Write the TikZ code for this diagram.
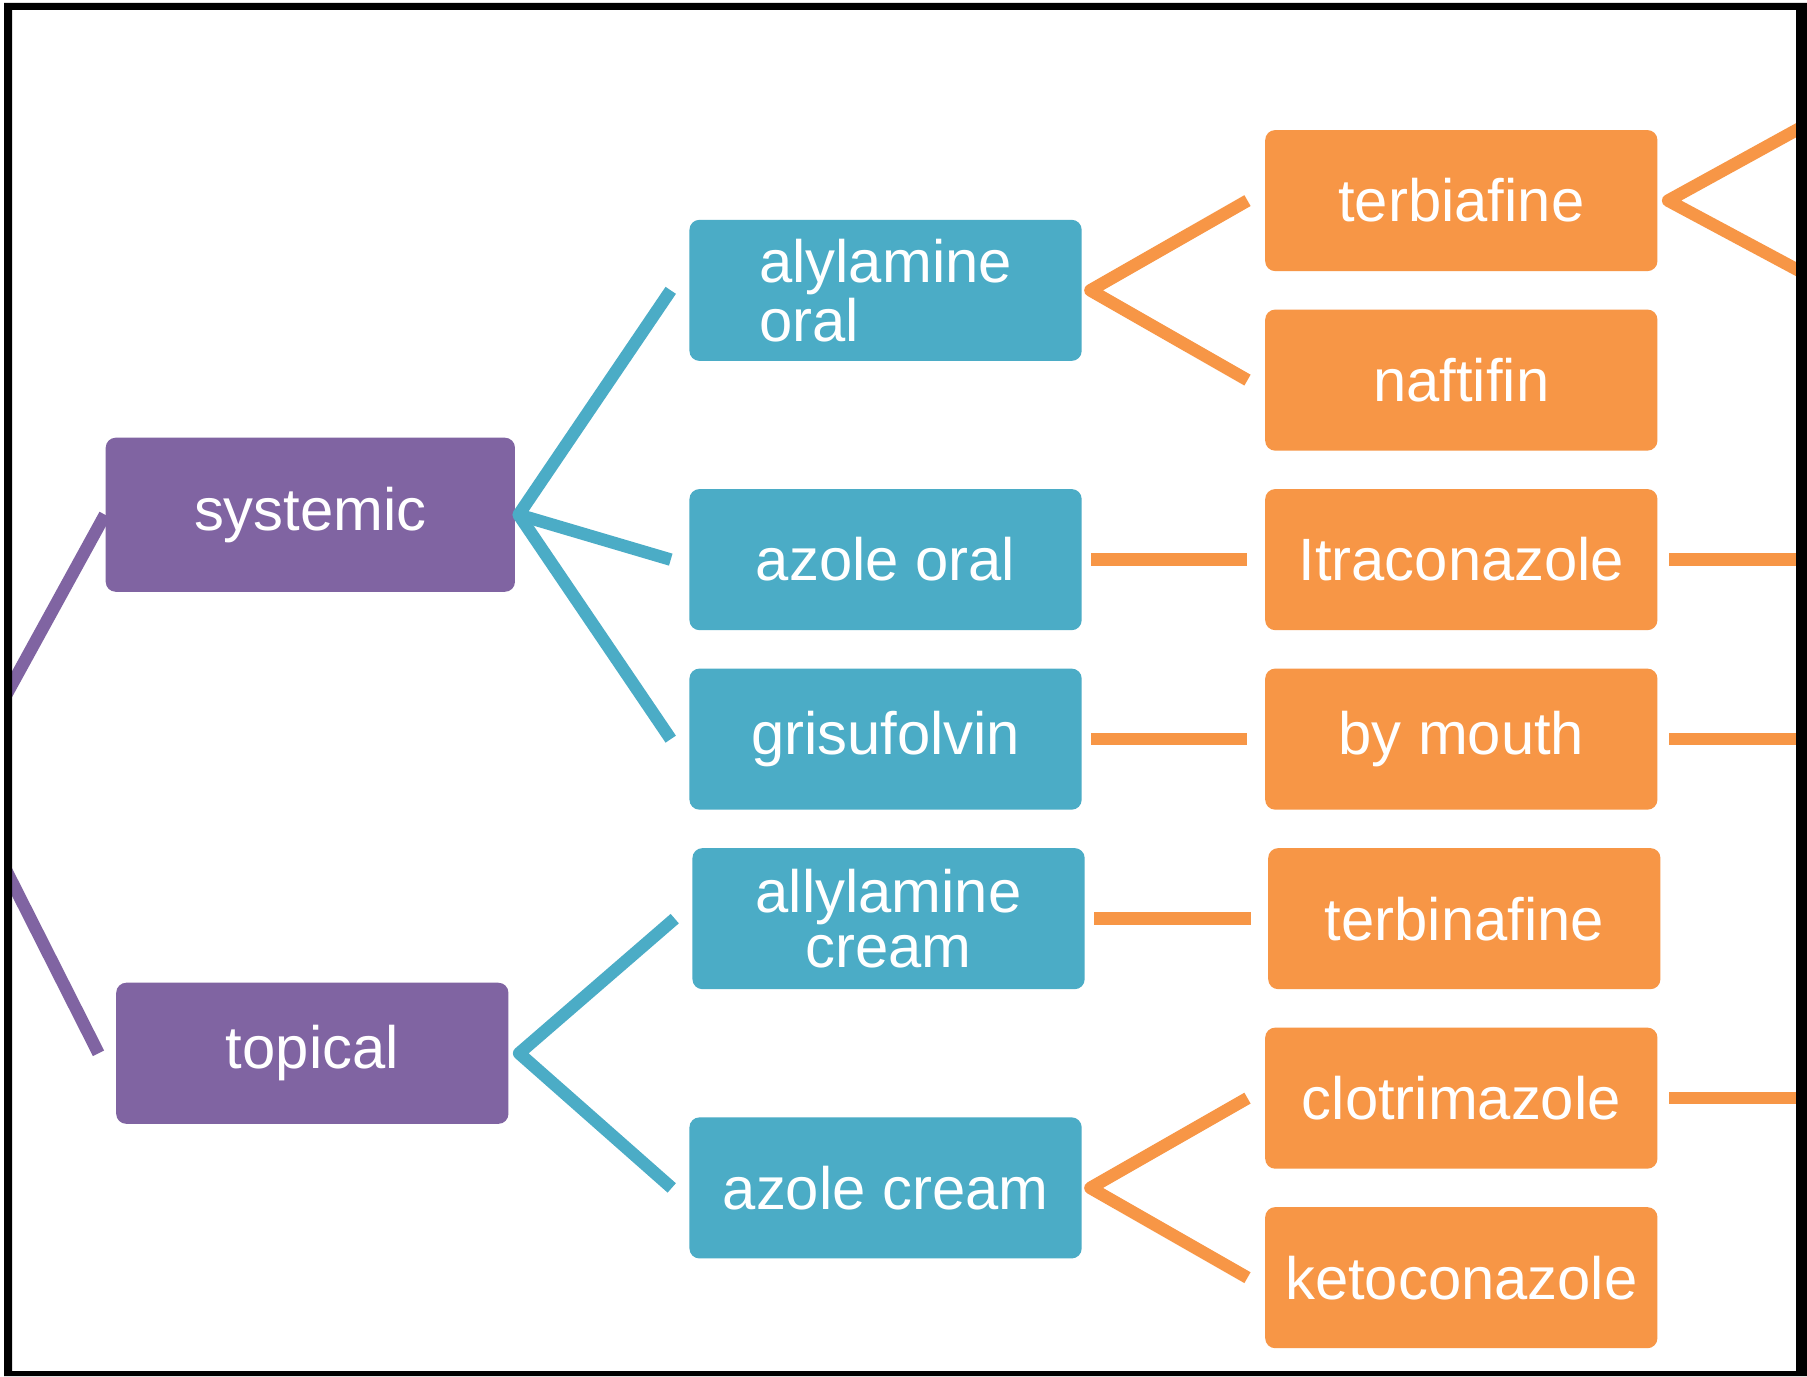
\documentclass[tikz,border=0pt]{standalone}
\usepackage{fontspec}
\setmainfont{Liberation Sans}
\usepackage{tikz}
\usetikzlibrary{positioning, calc}
\usepackage{xcolor}
\definecolor{RootPurple}{RGB}{128,100,162}
\definecolor{ClassTeal}{RGB}{75,172,198}
\definecolor{DrugOrange}{RGB}{247,150,70}
\tikzset{
  basebox/.style={rectangle, rounded corners=0.1cm, text=white,
    align=center, font=\fontsize{17}{15.5}\selectfont,
    minimum width=3.92cm, minimum height=1.41cm},
  rootbox/.style={basebox, fill=RootPurple},
  classbox/.style={basebox, fill=ClassTeal},
  drugbox/.style={basebox, fill=DrugOrange},
  purpleline/.style={line width=0.125cm, line join=round, color=RootPurple},
  tealline/.style={line width=0.125cm, line join=round, color=ClassTeal},
  orangeline/.style={line width=0.125cm, line join=round, color=DrugOrange}
}

\begin{document}
\begin{tikzpicture}[x=0.01cm, y=-0.01cm, node distance=0.37cm and 1.82cm]

  \useasboundingbox (0,0) rectangle (1807,1376);
  \fill[white] (0,0) rectangle (1807,1376);

  % Drugs
  \node[drugbox] (terbia) at (1461.3,200.6) {terbiafine};
  \node[drugbox, below=of terbia] (naft) {naftifin};
  \node[drugbox, below=of naft] (itra) {Itraconazole};
  \node[drugbox, below=of itra] (mouth) {by mouth};
  \node[drugbox, below=of mouth, xshift=0.03cm] (terbin) {terbinafine};
  \node[drugbox, below=of terbin, xshift=-0.03cm] (clot) {clotrimazole};
  \node[drugbox, below=of clot] (keto) {ketoconazole};

  % Drug classes
  \coordinate (upfork) at ($(terbia.west)!0.5!(naft.west)$);
  \coordinate (lowfork) at ($(clot.west)!0.5!(keto.west)$);
  \node[classbox, align=left, left=of upfork] (alyl) {alylamine\\oral};
  \node[classbox, left=of itra] (azoral) {azole oral};
  \node[classbox, left=of mouth] (gris) {grisufolvin};
  \node[classbox, left=of terbin] (allyl) {allylamine\\cream};
  \node[classbox, left=of lowfork] (azcream) {azole cream};

  % Routes
  \coordinate (sysmid) at ($(alyl.west)!0.5!(gris.west)$);
  \coordinate (topmid) at ($(allyl.west)!0.5!(azcream.west)$);
  \node[rootbox, minimum width=4.09cm, minimum height=1.54cm,
    left=1.73cm of sysmid] (sys) {systemic};
  \node[rootbox, left=1.81cm of topmid] (top) {topical};

  % Off-frame ends
  \coordinate (root) at (-40,779);
  \coordinate (rim) at (1822,0);
  \coordinate (terbup) at (1822,116);
  \coordinate (terbdown) at (1822,283);

  \begin{scope}
    \clip (12,10) rectangle (1796,1371);
    \draw[purpleline] (sys.west) -- (root) -- ([xshift=-0.17cm]top.west);

    \draw[tealline] ([xshift=-0.18cm]alyl.west) -- ([xshift=0.03cm]sys.east)
      -- ([xshift=-0.18cm]gris.west);
    \draw[tealline] ([xshift=0.03cm]sys.east) -- ([xshift=-0.18cm]azoral.west);
    \draw[tealline] ([xshift=-0.17cm]allyl.west) -- ([xshift=0.1cm]top.east)
      -- ([xshift=-0.17cm]azcream.west);

    \draw[orangeline] ([xshift=-0.17cm]terbia.west) -- ([xshift=0.08cm]alyl.east)
      -- ([xshift=-0.17cm]naft.west);
    \draw[orangeline] ([xshift=0.09cm]azoral.east) -- ([xshift=-0.17cm]itra.west);
    \draw[orangeline] ([xshift=0.09cm]gris.east) -- ([xshift=-0.17cm]mouth.west);
    \draw[orangeline] ([xshift=0.09cm]allyl.east) -- ([xshift=-0.17cm]terbin.west);
    \draw[orangeline] ([xshift=-0.17cm]clot.west) -- ([xshift=0.08cm]azcream.east)
      -- ([xshift=-0.17cm]keto.west);

    \draw[orangeline] (terbup) -- ([xshift=0.1cm]terbia.east) -- (terbdown);
    \draw[orangeline] ([xshift=0.11cm]itra.east) -- (itra.east -| rim);
    \draw[orangeline] ([xshift=0.11cm]mouth.east) -- (mouth.east -| rim);
    \draw[orangeline] ([xshift=0.11cm]clot.east) -- (clot.east -| rim);
  \end{scope}

  % Frame
  \fill[black, even odd rule] (4,3) rectangle (1807,1376) (12,10) rectangle (1796,1371);

\end{tikzpicture}
\end{document}
